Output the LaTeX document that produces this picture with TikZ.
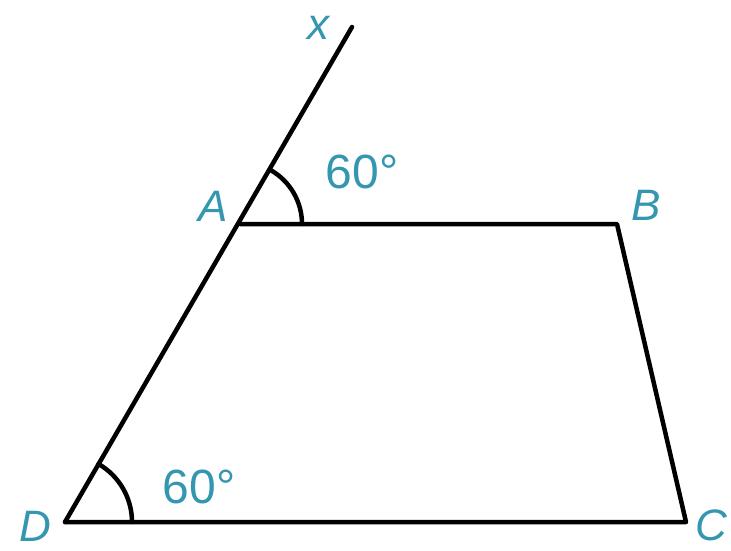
\documentclass[tikz,border=0pt]{standalone}
\usepackage{fontspec}
\setmainfont{Liberation Sans}
\definecolor{lbl}{HTML}{3596B0}
\begin{document}
\begin{tikzpicture}[x=1pt,y=1pt,
  edge/.style={line width=4.5pt,line cap=round,line join=round},
  lab/.style={text=lbl,font=\fontsize{44}{44}\selectfont\itshape,inner sep=0pt},
  deg/.style={text=lbl,font=\fontsize{48}{48}\selectfont,inner sep=0pt}]
\useasboundingbox (0,0) rectangle (731,550);
\coordinate (D) at (65,28);
\coordinate (C) at (686,28);
\coordinate (A) at (240,326);
\coordinate (B) at (617,326);
\coordinate (X) at (352,523);
\draw[edge] (D) -- (X);
\draw[edge] (A) -- (B) -- (C) -- (D);
\draw[edge] ([shift={(0:62)}]A) arc[start angle=0,end angle=60,radius=62];
\draw[edge] ([shift={(0:67)}]D) arc[start angle=0,end angle=60,radius=67];
\node[lab] (lx) at (318,522) {x};
\node[lab] (la) at (213,344) {A};
\node[lab] (lb) at (646,345) {B};
\node[lab] (ld) at (35,24) {D};
\node[lab] (lc) at (711,25) {C};
\node[deg] (d1) at (362,378) {60°};
\node[deg] (d2) at (199,63) {60°};
\end{tikzpicture}
\end{document}
